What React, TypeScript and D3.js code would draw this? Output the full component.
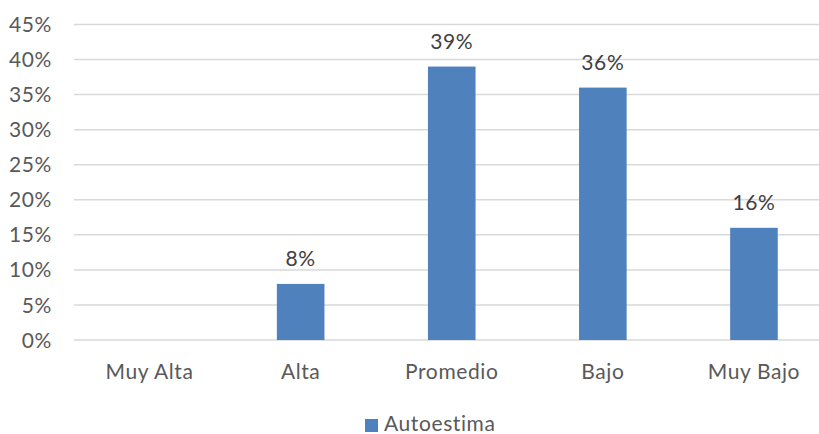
import React from "react";
import * as d3 from "d3";

const categories = ["Muy Alta", "Alta", "Promedio", "Bajo", "Muy Bajo"];
const values = [0, 8, 39, 36, 16];
const yTicks = [0, 5, 10, 15, 20, 25, 30, 35, 40, 45];
const seriesName = "Autoestima";

const W = 819;
const H = 434;
const FONT = "Lato, 'Open Sans', sans-serif";
const FS = 21;
const LS = 0.6;

export default function App() {
  const x = d3.scaleBand<string>().domain(categories).range([74, 829.5]).padding(0);
  const y = d3.scaleLinear().domain([0, 45]).range([340, 24.5]);
  const bw = x.bandwidth() * 0.315;
  return (
    <svg width={W} height={H} style={{ position: "absolute", left: 0, top: 0, background: "#fff" }}>
      <rect x={0} y={0} width={W} height={H} fill="#fff" />
      {yTicks.map((t) => (
        <g key={t}>
          <line x1={74} x2={W} y1={y(t)} y2={y(t)} stroke="#d9d9d9" strokeWidth={1.5} />
          <text x={52} y={y(t)} dy="0.36em" textAnchor="end" fontFamily={FONT} fontSize={FS} letterSpacing={LS} fill="#595959">
            {t}%
          </text>
        </g>
      ))}
      {categories.map((c, i) => {
        const cx = (x(c) as number) + x.bandwidth() / 2;
        const v = values[i];
        return (
          <g key={c}>
            {v > 0 && (
              <rect x={cx - bw / 2} y={y(v)} width={bw} height={y(0) - y(v)} fill="#4f81bd" />
            )}
            {v > 0 && (
              <text x={cx} y={y(v) - 17.5} textAnchor="middle" fontFamily={FONT} fontSize={FS} letterSpacing={LS} fill="#404040">
                {v}%
              </text>
            )}
            <text x={cx} y={378.5} textAnchor="middle" fontFamily={FONT} fontSize={FS} letterSpacing={LS} fill="#595959">
              {c}
            </text>
          </g>
        );
      })}
      <rect x={365} y={419} width={13} height={13} fill="#4f81bd" />
      <text x={384} y={431} fontFamily={FONT} fontSize={FS} letterSpacing={LS} fill="#595959">
        {seriesName}
      </text>
    </svg>
  );
}
